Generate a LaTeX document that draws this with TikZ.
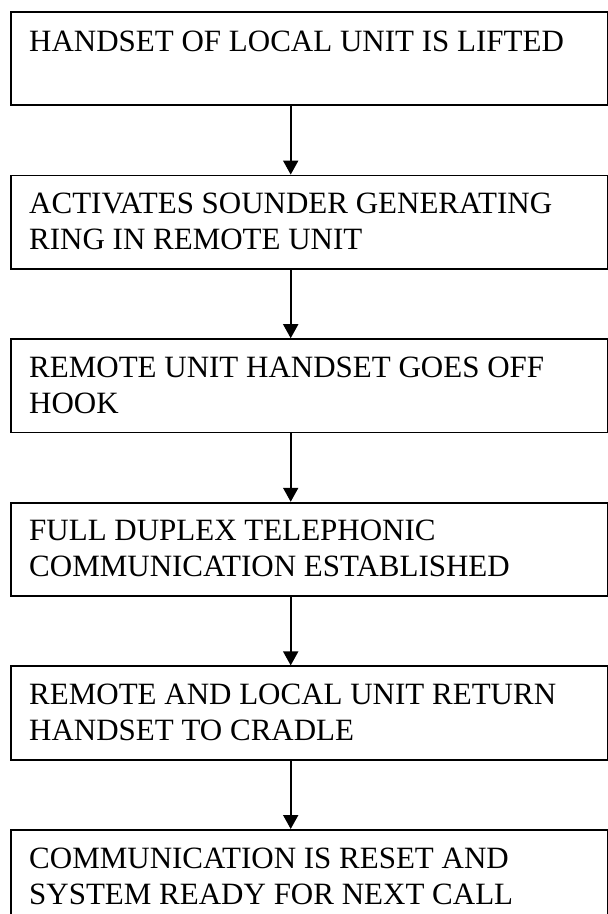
\documentclass[tikz,border=0pt]{standalone}
\usepackage{fontspec}
\setmainfont{Liberation Serif}
\usetikzlibrary{arrows.meta,calc}
\begin{document}
\begin{tikzpicture}[x=1pt,y=1pt,
  box/.style={draw, line width=1.7pt, minimum width=596.7pt, minimum height=93.4pt, anchor=north west, inner sep=0pt},
  txt/.style={anchor=base west, inner sep=0pt, align=left, font=\fontsize{31}{36}\selectfont},
  arr/.style={line width=1.8pt, -{Triangle[width=15pt,length=14pt]}}]
\useasboundingbox (0,0) rectangle (608,-914);
\clip (0,0) rectangle (608,-914);
\coordinate (ax) at (290.7,0);
\node[box] (b1) at (10,-11) {};
\node[box] (b2) at (10,-174.6) {};
\node[box] (b3) at (10,-338.2) {};
\node[box] (b4) at (10,-501.8) {};
\node[box] (b5) at (10,-665.4) {};
\node[box] (b6) at (10,-829) {};
\node[txt] (t1) at (29,-51.5) {HANDSET OF LOCAL UNIT IS LIFTED};
\node[txt] (t2) at (29,-249.4) {ACTIVATES SOUNDER GENERATING\\RING IN REMOTE UNIT};
\node[txt] (t3) at (29,-413.0) {REMOTE UNIT HANDSET GOES OFF\\HOOK};
\node[txt] (t4) at (29,-576.6) {FULL DUPLEX TELEPHONIC\\COMMUNICATION ESTABLISHED};
\node[txt] (t5) at (29,-740.2) {REMOTE AND LOCAL UNIT RETURN\\HANDSET TO CRADLE};
\node[txt] (t6) at (29,-904.0) {COMMUNICATION IS RESET AND\\SYSTEM READY FOR NEXT CALL};
\draw[arr] (b1.south -| ax) -- (b2.north -| ax);
\draw[arr] (b2.south -| ax) -- (b3.north -| ax);
\draw[arr] (b3.south -| ax) -- (b4.north -| ax);
\draw[arr] (b4.south -| ax) -- (b5.north -| ax);
\draw[arr] (b5.south -| ax) -- (b6.north -| ax);
\end{tikzpicture}
\end{document}
